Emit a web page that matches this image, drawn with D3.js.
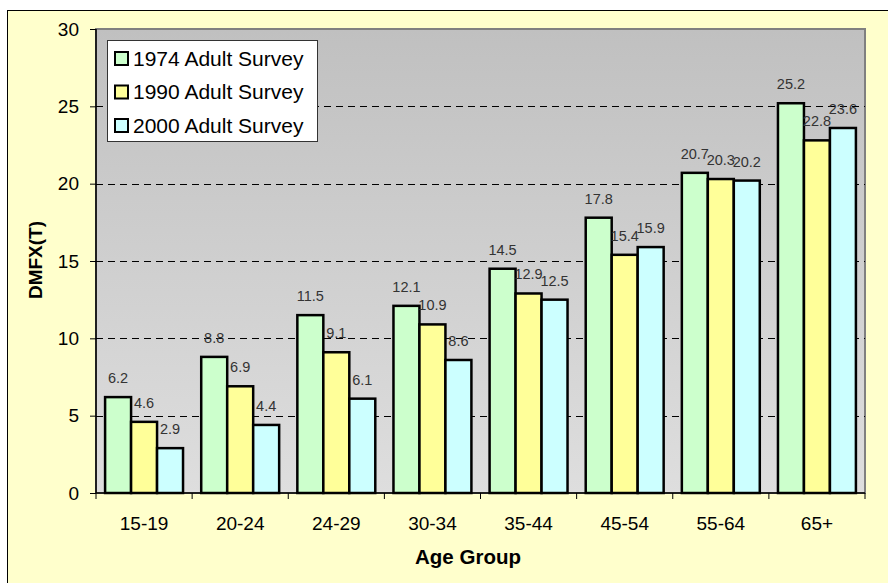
<!DOCTYPE html>
<html>
<head>
<meta charset="utf-8">
<script src="https://cdn.jsdelivr.net/npm/d3@7"></script>
<style>
body { margin:0; background:#fff; overflow:hidden; }
svg { display:block; font-family: Arial, "Liberation Sans", sans-serif; }
</style>
</head>
<body>
<svg id="chart"></svg>
<script>
// Base SVG values
let width = 888
let height = 583

// Data
let ageGroups = ["15-19", "20-24", "24-29", "30-34", "35-44", "45-54", "55-64", "65+"]
let seriesNames = ["1974 Adult Survey", "1990 Adult Survey", "2000 Adult Survey"]
let survey1974 = [6.2, 8.8, 11.5, 12.1, 14.5, 17.8, 20.7, 25.2]
let survey1990 = [4.6, 6.9, 9.1, 10.9, 12.9, 15.4, 20.3, 22.8]
let survey2000 = [2.9, 4.4, 6.1, 8.6, 12.5, 15.9, 20.2, 23.6]
let yTicks = [0, 5, 10, 15, 20, 25, 30]
let colors = ["#ccffcc", "#ffff99", "#ccffff"]

let plot = { left: 96, top: 29, right: 865, bottom: 493 }

let svg = d3.select("#chart")
	.attr("width", width)
	.attr("height", height)

// outer frame
svg.append("rect")
	.attr("x", 7.5).attr("y", 10.5)
	.attr("width", 900).attr("height", 600)
	.attr("fill", "#ffffcc")
	.attr("stroke", "#000")

// gradient for plot area
let grad = svg.append("defs").append("linearGradient")
	.attr("id", "bg").attr("x1", 0).attr("y1", 0).attr("x2", 0).attr("y2", 1)
grad.append("stop").attr("offset", "0%").attr("stop-color", "#c0c0c0")
grad.append("stop").attr("offset", "100%").attr("stop-color", "#dedede")

svg.append("rect")
	.attr("x", plot.left).attr("y", plot.top)
	.attr("width", plot.right - plot.left).attr("height", plot.bottom - plot.top)
	.attr("fill", "url(#bg)")
	.attr("stroke", "#808080")
	.attr("stroke-width", 2)

// Scales
let yScale = d3.scaleLinear()
	.domain([0, 30])
	.range([plot.bottom, plot.top])

let xScale = d3.scaleBand()
	.domain(ageGroups)
	.range([plot.left, plot.right])

// bars: 3 per group, gap width 70% of a bar
let barW = xScale.bandwidth() / 3.7
let xInner = d3.scaleBand()
	.domain(d3.range(3))
	.range([barW * 0.35, barW * 3.35])

// gridlines
svg.append("g")
	.selectAll("line")
	.data(yTicks.filter(d => d > 0 && d < 30))
	.enter()
	.append("line")
		.attr("x1", plot.left).attr("x2", plot.right)
		.attr("y1", d => Math.round(yScale(d)) + 0.5)
		.attr("y2", d => Math.round(yScale(d)) + 0.5)
		.attr("stroke", "#000")
		.attr("stroke-dasharray", "7,5")

let allSeries = [survey1974, survey1990, survey2000]
let barData = []
ageGroups.forEach((g, i) => {
	allSeries.forEach((s, j) => {
		barData.push({ group: g, series: j, value: s[i] })
	})
})

let groups = svg.append("g")
groups.selectAll("rect")
	.data(barData)
	.enter()
	.append("rect")
		.attr("x", d => xScale(d.group) + xInner(d.series))
		.attr("y", d => yScale(d.value))
		.attr("width", barW)
		.attr("height", d => plot.bottom - yScale(d.value))
		.attr("fill", d => colors[d.series])
		.attr("stroke", "#000")
		.attr("stroke-width", 2.5)

// data labels
svg.append("g")
	.selectAll("text")
	.data(barData)
	.enter()
	.append("text")
		.attr("x", d => xScale(d.group) + xInner(d.series) + barW / 2)
		.attr("y", d => yScale(d.value) - 14)
		.attr("text-anchor", "middle")
		.style("font-family", "'Liberation Sans Narrow', 'Arial Narrow', sans-serif")
		.style("font-size", "14.5px")
		.attr("fill", "#333")
		.text(d => d.value)

// Axis
let axisL = d3.axisLeft(yScale)
	.tickValues(yTicks)
	.tickSize(6)
	.tickPadding(11)
svg.append("g")
	.attr("class", "axis")
	.attr("transform", `translate(${plot.left},0)`)
	.call(axisL)
	.call(g => g.select(".domain").attr("stroke", "#000").attr("stroke-width", 1.5).attr("d", `M0,${plot.top}V${plot.bottom}`))
	.call(g => g.selectAll("text").style("font-size", "19px").style("font-family", "Arial, 'Liberation Sans', sans-serif").attr("fill", "#000"))

let axisB = d3.axisBottom(xScale)
	.tickSize(0)
	.tickPadding(24)
svg.append("g")
	.attr("class", "axis")
	.attr("transform", `translate(0,${plot.bottom})`)
	.call(axisB)
	.call(g => g.select(".domain").attr("stroke", "#000").attr("stroke-width", 1.5).attr("d", `M${plot.left},0H${plot.right}`))
	.call(g => g.selectAll("text").style("font-size", "19px").style("font-family", "Arial, 'Liberation Sans', sans-serif").attr("fill", "#000"))

// category boundary ticks
svg.append("g")
	.selectAll("line")
	.data(ageGroups.concat(["end"]))
	.enter()
	.append("line")
		.attr("x1", (d, i) => i < ageGroups.length ? xScale(d) : plot.right)
		.attr("x2", (d, i) => i < ageGroups.length ? xScale(d) : plot.right)
		.attr("y1", plot.bottom).attr("y2", plot.bottom + 6)
		.attr("stroke", "#000")

// Axis labels
svg.append("text")
	.attr("transform", "rotate(-90)")
	.attr("x", -260)
	.attr("y", 42)
	.attr("text-anchor", "middle")
	.style("font-weight", "bold")
	.style("font-size", "19px")
	.text("DMFX(T)")

svg.append("text")
	.attr("x", 468)
	.attr("y", 564)
	.attr("text-anchor", "middle")
	.style("font-weight", "bold")
	.style("font-size", "20.5px")
	.text("Age Group")

// Legend
let legend = svg.append("g").attr("transform", "translate(107,40)")
legend.append("rect")
	.attr("x", 0.5).attr("y", 0.5)
	.attr("width", 210).attr("height", 101)
	.attr("fill", "#fff")
	.attr("stroke", "#333")

let items = legend.selectAll(".item")
	.data(seriesNames)
	.enter()
	.append("g")
		.attr("transform", (d, i) => `translate(0,${18 + i * 33.5})`)
items.append("rect")
	.attr("x", 8).attr("y", -6)
	.attr("width", 13).attr("height", 13)
	.attr("fill", (d, i) => colors[i])
	.attr("stroke", "#000")
	.attr("stroke-width", 2)
items.append("text")
	.attr("x", 26)
	.attr("y", 7.5)
	.style("font-size", "21px")
	.text(d => d)
</script>
</body>
</html>
